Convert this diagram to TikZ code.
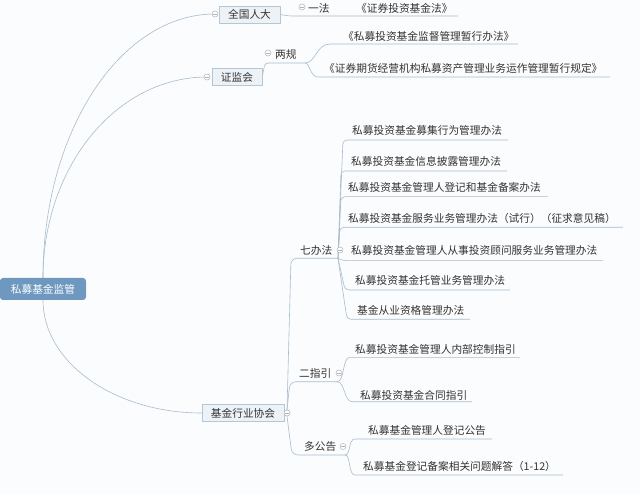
\documentclass[tikz,border=0pt]{standalone}
\usepackage{fontspec}
\setmainfont{Noto Sans CJK SC}
\usetikzlibrary{backgrounds}
\definecolor{linec}{HTML}{A8BCCE}
\definecolor{rootc}{HTML}{6E98BF}
\definecolor{boxfill}{HTML}{EDF2F7}
\definecolor{boxdraw}{HTML}{B5C6D5}
\definecolor{txt}{HTML}{333333}
\definecolor{bgc}{HTML}{FBFCFD}
\definecolor{foldc}{HTML}{B3B3B3}
\begin{document}
\begin{tikzpicture}[x=1pt,y=-1pt,
  conn/.style={draw=linec,line width=0.6pt},
  tfont/.style={font=\fontsize{10.7}{13}\selectfont},
  rootbox/.style={tfont, fill=rootc, text=white, rounded corners=3pt, minimum width=86pt, minimum height=22pt, inner sep=0pt},
  topicbox/.style={tfont, fill=boxfill, draw=boxdraw, line width=0.5pt, text=txt, minimum height=17pt, inner sep=0pt},
  leaf/.style={tfont, text=txt, inner sep=0pt, anchor=west},
  fold/.style={circle, draw=foldc, fill=white, line width=0.5pt, minimum size=6pt, inner sep=0pt,
    path picture={\draw[foldc,line width=0.5pt] ([xshift=1.3pt]path picture bounding box.west) -- ([xshift=-1.3pt]path picture bounding box.east);}}
]
\useasboundingbox (0,0) rectangle (640,494);

% topics
\node[rootbox] (root) at (43,289) {私募基金监管};
\node[topicbox, minimum width=61pt] (qg) at (249.5,14.5) {全国人大};
\node[topicbox, minimum width=50pt] (zj) at (237,77) {证监会};
\node[topicbox, minimum width=82pt] (jj) at (243,413) {基金行业协会};

\node[leaf] (yifa) at (308,8) {一法};
\node[leaf] (zqjjf) at (356,8) {《证券投资基金法》};
\node[leaf] (lianggui) at (275,54) {两规};
\node[leaf] (lg1) at (343,36.5) {《私募投资基金监督管理暂行办法》};
\node[leaf] (lg2) at (324,68.5) {《证券期货经营机构私募资产管理业务运作管理暂行规定》};
\node[leaf] (qbf) at (300,250) {七办法};
\node[leaf] (q1) at (352,130.5) {私募投资基金募集行为管理办法};
\node[leaf] (q2) at (351,161.5) {私募投资基金信息披露管理办法};
\node[leaf] (q3) at (348,187.3) {私募投资基金管理人登记和基金备案办法};
\node[leaf] (q4) at (348,218.3) {私募投资基金服务业务管理办法（试行）（征求意见稿）};
\node[leaf] (q5) at (351,250.5) {私募投资基金管理人从事投资顾问服务业务管理办法};
\node[leaf] (q6) at (355,280.5) {私募投资基金托管业务管理办法};
\node[leaf] (q7) at (357,310) {基金从业资格管理办法};
\node[leaf] (ezy) at (299,373) {二指引};
\node[leaf] (e1) at (355,349.3) {私募投资基金管理人内部控制指引};
\node[leaf] (e2) at (360,395) {私募投资基金合同指引};
\node[leaf] (dgg) at (304,446.5) {多公告};
\node[leaf] (d1) at (368,430) {私募基金管理人登记公告};
\node[leaf] (d2) at (363,466.7) {私募基金登记备案相关问题解答（1-12）};

% fold markers
\node[fold] (fqg) at (215,14) {};
\node[fold] (fyf) at (302,7) {};
\node[fold] (fzj) at (207,77) {};
\node[fold] (flg) at (268,53) {};
\node[fold] (fjj) at (287,413) {};
\node[fold] (fqb) at (340,250) {};
\node[fold] (fez) at (339,373) {};
\node[fold] (fdg) at (343,446.5) {};

% connector points
\coordinate (yfStart) at (289,16);
\coordinate (yfEnd) at (458,16);
\coordinate (lgA) at (265,63);
\coordinate (lgFork) at (305,63);
\coordinate (lg1s) at (330,44);
\coordinate (lg1e) at (518,44);
\coordinate (lg2s) at (318,77);
\coordinate (lg2e) at (610,77);
\coordinate (qbA) at (291,258.3);
\coordinate (qbFork) at (338,258.3);
\coordinate (qs1) at (343,140);   \coordinate (qe1) at (508,140);
\coordinate (qs2) at (341,171);   \coordinate (qe2) at (507,171);
\coordinate (qs3) at (341,196.7); \coordinate (qe3) at (548,196.7);
\coordinate (qs4) at (340,227.3); \coordinate (qe4) at (623,227.3);
\coordinate (qs5) at (343,260.7); \coordinate (qe5) at (603,260.7);
\coordinate (qs6) at (345,290);   \coordinate (qe6) at (510,290);
\coordinate (qs7) at (347,319.3); \coordinate (qe7) at (470,319.3);
\coordinate (ezA) at (290,381.7);
\coordinate (ezFork) at (337,381.7);
\coordinate (e1s) at (350,357.3); \coordinate (e1e) at (520,357.3);
\coordinate (e2s) at (352,401.7); \coordinate (e2e) at (472,401.7);
\coordinate (dgA) at (292,455);
\coordinate (dgFork) at (345,455);
\coordinate (d1s) at (355,439); \coordinate (d1e) at (492,439);
\coordinate (d2s) at (355,475); \coordinate (d2e) at (563,475);

\begin{scope}[on background layer]
\fill[bgc] (0,0) rectangle (640,494);
\draw[conn] (root.north) .. controls (43,132) and (120,14) .. (fqg.center);
\draw[conn] (root.north) .. controls (43,167) and (116,77) .. (fzj.center);
\draw[conn] (root.south) .. controls (43,362) and (114,413) .. (jj.west);
\draw[conn, rounded corners=3pt] (qg.east) -- (yfStart) -- (yfEnd);
\draw[conn, rounded corners=3pt] (zj.east) -- (lgA) -- (lgFork);
\draw[conn] (lgFork) .. controls (316,63) and (316,44) .. (lg1s) -- (lg1e);
\draw[conn] (lgFork) .. controls (310,63) and (310,77) .. (lg2s) -- (lg2e);
\draw[conn, rounded corners=6pt] (fjj.north) -- (qbA) -- (qbFork);
\draw[conn, rounded corners=6pt] (fjj.north) -- (ezA) -- (ezFork);
\draw[conn, rounded corners=6pt] (fjj.south) -- (dgA) -- (dgFork);
\foreach \i in {1,...,7} {\draw[conn, rounded corners=4pt] (qbFork) -- (qs\i) -- (qe\i);}
\draw[conn] (ezFork) .. controls (345,381.7) and (342,357.3) .. (e1s) -- (e1e);
\draw[conn] (ezFork) .. controls (345,381.7) and (344,401.7) .. (e2s) -- (e2e);
\draw[conn] (dgFork) .. controls (351,455) and (348,439) .. (d1s) -- (d1e);
\draw[conn] (dgFork) .. controls (351,455) and (348,475) .. (d2s) -- (d2e);
\end{scope}
\end{tikzpicture}
\end{document}
